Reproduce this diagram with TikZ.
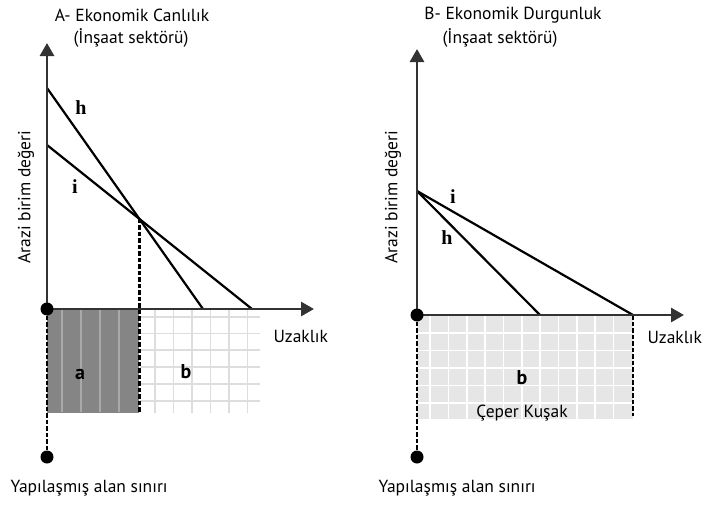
\documentclass[tikz,border=0pt]{standalone}
\usepackage{fontspec}
\setmainfont{PT Sans}
\newfontfamily\letterfont{Liberation Serif}
\usetikzlibrary{arrows.meta}
\definecolor{axisgray}{HTML}{333333}
\definecolor{darkfill}{HTML}{858585}
\definecolor{stripe}{HTML}{A9A9A9}
\definecolor{gridline}{HTML}{DDDDDD}
\definecolor{lightfill}{HTML}{E6E6E6}
\begin{document}
\begin{tikzpicture}[x=1pt,y=-1pt,
	axis/.style={draw=axisgray,line width=2.8pt,-{Triangle[width=14pt,length=13pt]}},
	rent/.style={line width=2.2pt},
	limit/.style={line width=2.4pt,dash pattern=on 4.5pt off 2pt},
	dot/.style={circle,fill,inner sep=0pt,minimum size=13pt},
	lbl/.style={font=\fontsize{17.5}{20}\selectfont},
	letter/.style={font=\letterfont\bfseries\fontsize{20}{22}\selectfont},
	zone/.style={font=\bfseries\fontsize{20}{22}\selectfont}]
		\useasboundingbox (0,0) rectangle (705,506);
		% A - ekonomik canlilik
		\coordinate (OA) at (47,309);
		\coordinate (YA) at (47,43);
		\coordinate (XA) at (314,309);
		\coordinate (SA) at (47,457);
		\coordinate (HA0) at (47,88);
		\coordinate (HA1) at (203,309);
		\coordinate (IA0) at (47,145);
		\coordinate (IA1) at (252,309);
		\coordinate (KA) at (intersection of HA0--HA1 and IA0--IA1);
		\coordinate (KB) at (KA |- 0,413);
		\fill[darkfill] (OA) rectangle (KB);
		\foreach \x in {62,81,100,119}
			\draw[stripe,line width=1.4pt] (\x,310) -- (\x,412);
		\foreach \x in {155,173.5,192,210.5,229,247.5}
			\draw[gridline,line width=1.8pt] (\x,310) -- (\x,413);
		\foreach \y in {317,333.5,350,367,384,401}
			\draw[gridline,line width=1.8pt] (140,\y) -- (260,\y);
		\draw[rent] (HA0) -- (HA1);
		\draw[rent] (IA0) -- (IA1);
		\draw[limit] (KA) -- (KB);
		\draw[limit] (OA) -- (SA);
		\draw[axis] (OA) -- (YA);
		\draw[axis] (OA) -- (XA);
		\node[dot] (DOA) at (OA) {};
		\node[dot] (DSA) at (SA) {};
		\node[lbl] (TA1) at (132,15) {A- Ekonomik Canlılık};
		\node[lbl] (TA2) at (131,38) {(İnşaat sektörü)};
		\node[lbl,rotate=90] (VA) at (26,197) {Arazi birim değeri};
		\node[lbl,anchor=west] (UA) at (270,336) {Uzaklık};
		\node[lbl,anchor=west] (BA) at (7,488) {Yapılaşmış alan sınırı};
		\node[letter] (hA) at (81,108) {h};
		\node[letter] (iA) at (75,187) {i};
		\node[zone] (aA) at (80,374) {a};
		\node[zone] (bA) at (186,372) {b};
		% B - ekonomik durgunluk
		\coordinate (OB) at (417,315);
		\coordinate (YB) at (417,49);
		\coordinate (XB) at (684,315);
		\coordinate (SB) at (417,457);
		\coordinate (P0) at (417,191);
		\coordinate (HB1) at (540,315);
		\coordinate (IB1) at (633,315);
		\coordinate (KC) at (633,416);
		\fill[lightfill] (OB) rectangle (633,419);
		\foreach \x in {430,448.5,467,485,503.5,522,540,558.5,577,595,613.5}
			\draw[white,line width=1.8pt] (\x,316) -- (\x,419);
		\foreach \y in {333,350.5,368,385.5,403}
			\draw[white,line width=1.8pt] (418,\y) -- (632,\y);
		\draw[rent] (P0) -- (HB1);
		\draw[rent] (P0) -- (IB1);
		\draw[limit] (IB1) -- (KC);
		\draw[limit] (OB) -- (SB);
		\draw[axis] (OB) -- (YB);
		\draw[axis] (OB) -- (XB);
		\node[dot] (DOB) at (OB) {};
		\node[dot] (DSB) at (SB) {};
		\node[lbl] (TB1) at (513,15) {B- Ekonomik Durgunluk};
		\node[lbl] (TB2) at (500,38) {(İnşaat sektörü)};
		\node[lbl,rotate=90] (VB) at (393,197) {Arazi birim değeri};
		\node[lbl,anchor=west] (UB) at (644,337) {Uzaklık};
		\node[lbl,anchor=west] (BB) at (375,488) {Yapılaşmış alan sınırı};
		\node[letter] (iB) at (453,197) {i};
		\node[letter] (hB) at (447,238) {h};
		\node[zone] (bB) at (522,378) {b};
		\node[lbl] (CB) at (522,413) {Çeper Kuşak};
\end{tikzpicture}
\end{document}
